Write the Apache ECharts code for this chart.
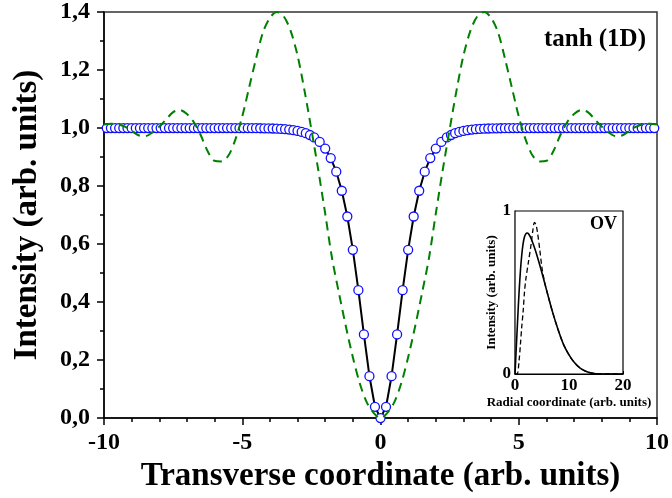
<!DOCTYPE html>
<html><head><meta charset="utf-8">
<script src="https://cdn.jsdelivr.net/npm/echarts@6/dist/echarts.min.js"></script>
<style>html,body{margin:0;padding:0;background:#fff}#c{width:672px;height:498px}</style>
</head><body><div id="c"></div>
<script>
// ---- Main panel data ----
const xTickLabels = ['-10', '-5', '0', '5', '10'];
const yTickLabels = ['0,0', '0,2', '0,4', '0,6', '0,8', '1,0', '1,2', '1,4'];

// tanh (1D) dark soliton: open circles joined by a black line
const circleX = [
  -9.9, -9.75, -9.6, -9.45, -9.3, -9.15, -9.0, -8.85, -8.7, -8.55, -8.4, -8.25, -8.1, -7.95, -7.8, -7.65, -7.5,
  -7.35, -7.2, -7.05, -6.9, -6.75, -6.6, -6.45, -6.3, -6.15, -6.0, -5.85, -5.7, -5.55, -5.4, -5.25, -5.1,
  -4.95, -4.8, -4.65, -4.5, -4.35, -4.2, -4.05, -3.9, -3.75, -3.6, -3.45, -3.3, -3.15, -3.0, -2.85, -2.7, -2.55, -2.4,
  -2.2, -2.0, -1.8, -1.6, -1.4, -1.2, -1.0, -0.8, -0.6, -0.4, -0.2, 0.0, 0.2, 0.4, 0.6, 0.8, 1.0, 1.2, 1.4, 1.6, 1.8, 2.0, 2.2,
  2.4, 2.55, 2.7, 2.85, 3.0, 3.15, 3.3, 3.45, 3.6, 3.75, 3.9, 4.05, 4.2, 4.35, 4.5, 4.65, 4.8, 4.95,
  5.1, 5.25, 5.4, 5.55, 5.7, 5.85, 6.0, 6.15, 6.3, 6.45, 6.6, 6.75, 6.9, 7.05, 7.2, 7.35, 7.5, 7.65, 7.8,
  7.95, 8.1, 8.25, 8.4, 8.55, 8.7, 8.85, 9.0, 9.15, 9.3, 9.45, 9.6, 9.75, 9.9
];
const circleY = [
  1, 1, 1, 1, 1, 1, 1, 1, 1, 1, 1, 1, 1, 1, 1, 1, 1,
  1, 1, 1, 1, 1, 1, 1, 1, 1, 1, 1, 1, 1, 1, 1, 1,
  0.9998, 0.9997, 0.9996, 0.9995, 0.9993, 0.9991, 0.9988, 0.9984, 0.9978, 0.9970, 0.9960, 0.9946, 0.9927, 0.9901, 0.9867, 0.9821, 0.9759, 0.9676,
  0.9521, 0.9293, 0.8964, 0.8495, 0.7838, 0.6950, 0.5800, 0.4409, 0.2884, 0.1444, 0.0390, 0.0, 0.0390, 0.1444, 0.2884, 0.4409, 0.5800, 0.6950, 0.7838, 0.8495, 0.8964, 0.9293, 0.9521,
  0.9676, 0.9759, 0.9821, 0.9867, 0.9901, 0.9927, 0.9946, 0.9960, 0.9970, 0.9978, 0.9984, 0.9988, 0.9991, 0.9993, 0.9995, 0.9996, 0.9997, 0.9998,
  1, 1, 1, 1, 1, 1, 1, 1, 1, 1, 1, 1, 1, 1, 1, 1, 1,
  1, 1, 1, 1, 1, 1, 1, 1, 1, 1, 1, 1, 1, 1, 1, 1
];

// green dashed curve
const greenX = [
  -10, -9.75, -9.5, -9.25, -9, -8.75, -8.5, -8.25, -8, -7.75, -7.5, -7.25, -7, -6.75, -6.5, -6.25, -6, -5.75, -5.5, -5.25,
  -5, -4.75, -4.5, -4.25, -4, -3.75, -3.5, -3.25, -3, -2.75, -2.5, -2.25, -2, -1.75, -1.5, -1.25, -1, -0.75, -0.5, -0.25,
  0, 0.25, 0.5, 0.75, 1, 1.25, 1.5, 1.75, 2, 2.25, 2.5, 2.75, 3, 3.25, 3.5, 3.75, 4, 4.25, 4.5, 4.75,
  5, 5.25, 5.5, 5.75, 6, 6.25, 6.5, 6.75, 7, 7.25, 7.5, 7.75, 8, 8.25, 8.5, 8.75, 9, 9.25, 9.5, 9.75, 10
];
const greenY = [
  1.012, 1.015, 1.013, 1.005, 0.99, 0.975, 0.972, 0.985, 1.005, 1.03, 1.055, 1.062, 1.048, 1.02, 0.975, 0.92, 0.887, 0.885, 0.905, 0.96,
  1.04, 1.14, 1.24, 1.33, 1.38, 1.40, 1.385, 1.335, 1.25, 1.13, 0.995, 0.855, 0.705, 0.55, 0.43, 0.315, 0.21, 0.12, 0.055, 0.018,
  0, 0.018, 0.055, 0.12, 0.21, 0.315, 0.43, 0.55, 0.705, 0.855, 0.995, 1.13, 1.25, 1.335, 1.385, 1.40, 1.38, 1.33, 1.24, 1.14,
  1.04, 0.96, 0.905, 0.885, 0.887, 0.92, 0.975, 1.02, 1.048, 1.062, 1.055, 1.03, 1.005, 0.985, 0.972, 0.975, 0.99, 1.005, 1.013, 1.015, 1.012
];

// ---- Inset (OV) data ----
const insetXTickLabels = ['0', '10', '20'];
const insetYTickLabels = ['0', '1'];
const ovSolidR = [0, 0.25, 0.5, 0.75, 1, 1.25, 1.5, 1.75, 2, 2.25, 2.5, 3, 3.5, 4, 5, 6, 7, 8, 9, 10, 11, 12, 13, 14, 15, 16, 18, 20];
const ovSolidI = [0, 0.17, 0.34, 0.5, 0.63, 0.73, 0.8, 0.84, 0.86, 0.865, 0.86, 0.83, 0.785, 0.735, 0.62, 0.495, 0.375, 0.27, 0.18, 0.117, 0.07, 0.038, 0.018, 0.007, 0.002, 0, 0, 0];
const ovDashR = [0, 0.4, 0.75, 1, 1.25, 1.5, 1.75, 2, 2.5, 3, 3.3, 3.6, 3.9, 4.2, 4.6, 5, 5.5, 6, 7, 8, 9, 10, 11, 12, 13, 14, 15, 16, 18, 20];
const ovDashI = [0, 0, 0.08, 0.18, 0.29, 0.38, 0.5, 0.58, 0.69, 0.8, 0.88, 0.93, 0.915, 0.86, 0.76, 0.65, 0.56, 0.495, 0.375, 0.27, 0.18, 0.117, 0.07, 0.038, 0.018, 0.007, 0.002, 0, 0, 0];

const FONT = "'Liberation Serif', 'Times New Roman', serif";
const pairs = (xs, ys) => xs.map((x, i) => [x, ys[i]]);

const chart = echarts.init(document.getElementById('c'), null, { renderer: 'canvas' });
chart.setOption({
  backgroundColor: '#fff',
  animation: false,
  grid: [
    { left: 104, right: 13, top: 12, bottom: 76, show: true, borderColor: '#333', borderWidth: 1.5, backgroundColor: 'transparent' },
    { left: 515, top: 211, width: 108, height: 163, show: true, borderColor: '#000', borderWidth: 1.2, backgroundColor: '#fff', z: 10 }
  ],
  xAxis: [
    {
      gridIndex: 0, type: 'value', min: -10, max: 10, interval: 5,
      name: 'Transverse coordinate (arb. units)', nameLocation: 'middle', nameGap: 41,
      nameTextStyle: { fontFamily: FONT, fontWeight: 'bold', fontSize: 33, color: '#000' },
      axisLine: { onZero: false, lineStyle: { color: '#000', width: 1.5 } },
      axisTick: { inside: false, length: 7, lineStyle: { color: '#000', width: 1.5 } },
      minorTick: { show: true, splitNumber: 5, length: 4, lineStyle: { color: '#000', width: 1.5 } },
      splitLine: { show: false },
      axisLabel: { margin: 13, fontFamily: FONT, fontWeight: 'bold', fontSize: 24, color: '#000',
        formatter: v => xTickLabels[Math.round((v + 10) / 5)] }
    },
    {
      gridIndex: 1, type: 'value', min: 0, max: 20, interval: 5,
      name: 'Radial coordinate (arb. units)', nameLocation: 'middle', nameGap: 22,
      nameTextStyle: { fontFamily: FONT, fontWeight: 'bold', fontSize: 13, color: '#000' },
      axisLine: { onZero: false, lineStyle: { color: '#000', width: 1.2 } },
      axisTick: { inside: true, length: 3, lineStyle: { color: '#000', width: 1 } },
      splitLine: { show: false },
      axisLabel: { margin: 3, fontFamily: FONT, fontWeight: 'bold', fontSize: 17, color: '#000',
        formatter: v => (v % 10 === 0 ? insetXTickLabels[v / 10] : '') }
    }
  ],
  yAxis: [
    {
      gridIndex: 0, type: 'value', min: 0, max: 1.4, interval: 0.2,
      name: 'Intensity (arb. units)', nameLocation: 'middle', nameGap: 60,
      nameTextStyle: { fontFamily: FONT, fontWeight: 'bold', fontSize: 33, color: '#000' },
      axisLine: { onZero: false, lineStyle: { color: '#000', width: 1.5 } },
      axisTick: { inside: false, length: 7, lineStyle: { color: '#000', width: 1.5 } },
      minorTick: { show: true, splitNumber: 2, length: 4, lineStyle: { color: '#000', width: 1.5 } },
      splitLine: { show: false },
      axisLabel: { margin: 14, fontFamily: FONT, fontWeight: 'bold', fontSize: 24, color: '#000',
        formatter: v => yTickLabels[Math.round(v / 0.2)] }
    },
    {
      gridIndex: 1, type: 'value', min: 0, max: 1, interval: 0.2,
      name: 'Intensity (arb. units)', nameLocation: 'middle', nameGap: 7,
      nameTextStyle: { fontFamily: FONT, fontWeight: 'bold', fontSize: 13, color: '#000' },
      axisLine: { onZero: false, lineStyle: { color: '#000', width: 1.2 } },
      axisTick: { inside: true, length: 3, lineStyle: { color: '#000', width: 1 } },
      splitLine: { show: false },
      axisLabel: { margin: 4, fontFamily: FONT, fontWeight: 'bold', fontSize: 17, color: '#000',
        formatter: v => (Math.abs(v) < 1e-9 ? insetYTickLabels[0] : (Math.abs(v - 1) < 1e-9 ? insetYTickLabels[1] : '')) }
    }
  ],
  series: [
    {
      type: 'line', xAxisIndex: 0, yAxisIndex: 0, data: pairs(circleX, circleY),
      symbol: 'circle', symbolSize: 9, showAllSymbol: true,
      itemStyle: { color: '#fff', borderColor: '#1010ff', borderWidth: 1.3 },
      lineStyle: { color: '#000', width: 2 }, z: 2
    },
    {
      type: 'line', xAxisIndex: 0, yAxisIndex: 0, data: pairs(greenX, greenY),
      symbol: 'none', smooth: 0.3,
      lineStyle: { color: '#008000', width: 2, type: [9, 6] }, z: 3
    },
    {
      type: 'line', xAxisIndex: 1, yAxisIndex: 1, data: pairs(ovSolidR, ovSolidI),
      symbol: 'none', smooth: 0.3, lineStyle: { color: '#000', width: 1.6 }, z: 12
    },
    {
      type: 'line', xAxisIndex: 1, yAxisIndex: 1, data: pairs(ovDashR, ovDashI),
      symbol: 'none', smooth: 0.3, lineStyle: { color: '#000', width: 1.3, type: [5, 3] }, z: 12
    }
  ],
  graphic: [
    { type: 'text', right: 26, top: 27, z: 20,
      style: { text: 'tanh (1D)', fontFamily: FONT, fontWeight: 'bold', fontSize: 25, fill: '#000' } },
    { type: 'text', left: 590, top: 215, z: 20,
      style: { text: 'OV', fontFamily: FONT, fontWeight: 'bold', fontSize: 18, fill: '#000' } }
  ]
});
</script>
</body></html>
